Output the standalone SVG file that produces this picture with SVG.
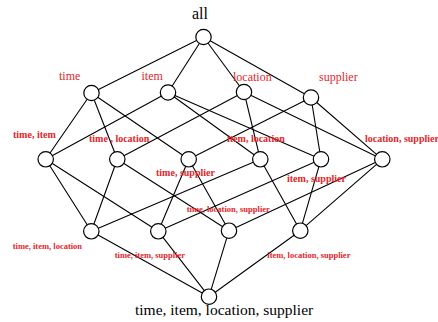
<svg xmlns="http://www.w3.org/2000/svg" width="438" height="322" viewBox="0 0 438 322">
<style>
.e{stroke:#000;stroke-width:1.1;fill:none}
.n{fill:#fff;stroke:#000;stroke-width:1.2}
.big{font-family:"Liberation Serif",serif;font-size:15.5px;fill:#000}
.l1{font-family:"Liberation Serif",serif;font-size:12px;fill:#e3262b}
.l2{font-family:"Liberation Serif",serif;font-size:10px;font-weight:bold;fill:#e3262b}
.l3{font-family:"Liberation Serif",serif;font-size:8.5px;font-weight:bold;fill:#e3262b}
</style>
<rect width="438" height="322" fill="#fff"/>
<g id="connectors">
<path class="e" d="M203.5,37L91.5,93M203.5,37L168,92.5M203.5,37L244,92M203.5,37L311,97.5"/>
<path class="e" d="M91.5,93L45.7,159.3M91.5,93L117.3,159.3M91.5,93L188.7,159.3"/>
<path class="e" d="M168,92.5L45.7,159.3M168,92.5L260.3,159.3M168,92.5L321,159.3"/>
<path class="e" d="M244,92L117.3,159.3M244,92L260.3,159.3M244,92L382.3,159.3"/>
<path class="e" d="M311,97.5L188.7,159.3M311,97.5L321,159.3M311,97.5L382.3,159.3"/>
<path class="e" d="M45.7,159.3L91.3,231.3M45.7,159.3L158.3,231.3"/>
<path class="e" d="M117.3,159.3L91.3,231.3M117.3,159.3L229,230.7"/>
<path class="e" d="M188.7,159.3L158.3,231.3M188.7,159.3L229,230.7"/>
<path class="e" d="M260.3,159.3L91.3,231.3M260.3,159.3L300.3,230.7"/>
<path class="e" d="M321,159.3L158.3,231.3M321,159.3L300.3,230.7"/>
<path class="e" d="M382.3,159.3L229,230.7M382.3,159.3L300.3,230.7"/>
<path class="e" d="M91.3,231.3L209,296.7M158.3,231.3L209,296.7M229,230.7L209,296.7M300.3,230.7L209,296.7"/>
</g>
<g id="all"><circle class="n" cx="203.5" cy="37" r="7.7"/><text class="big" x="192" y="19" style="font-size:16px">all</text></g>
<g id="time"><circle class="n" cx="91.5" cy="93" r="7.7"/><text class="l1" x="59" y="80">time</text></g>
<g id="item"><circle class="n" cx="168" cy="92.5" r="7.7"/><text class="l1" x="141.5" y="80">item</text></g>
<g id="location"><circle class="n" cx="244" cy="92" r="7.7"/><text class="l1" x="233" y="81">location</text></g>
<g id="supplier"><circle class="n" cx="311" cy="97.5" r="7.7"/><text class="l1" x="319" y="81">supplier</text></g>
<g id="time-item"><circle class="n" cx="45.7" cy="159.3" r="7.7"/><text class="l2" x="13" y="137.5">time, item</text></g>
<g id="time-location"><circle class="n" cx="117.3" cy="159.3" r="7.7"/><text class="l2" x="89" y="142">time , location</text></g>
<g id="time-supplier"><circle class="n" cx="188.7" cy="159.3" r="7.7"/><text class="l2" x="156" y="176">time, supplier</text></g>
<g id="item-location"><circle class="n" cx="260.3" cy="159.3" r="7.7"/><text class="l2" x="227" y="142">item, location</text></g>
<g id="item-supplier"><circle class="n" cx="321" cy="159.3" r="7.7"/><text class="l2" x="287" y="182">item, supplier</text></g>
<g id="location-supplier"><circle class="n" cx="382.3" cy="159.3" r="7.7"/><text class="l2" x="365" y="142">location, supplier</text></g>
<g id="time-item-location"><circle class="n" cx="91.3" cy="231.3" r="7.7"/><text class="l3" x="12.7" y="249">time, item, location</text></g>
<g id="time-item-supplier"><circle class="n" cx="158.3" cy="231.3" r="7.7"/><text class="l3" x="114.7" y="258">time, item, supplier</text></g>
<g id="time-location-supplier"><circle class="n" cx="229" cy="230.7" r="7.7"/><text class="l3" x="186.7" y="211.7">time, location, supplier</text></g>
<g id="item-location-supplier"><circle class="n" cx="300.3" cy="230.7" r="7.7"/><text class="l3" x="267.3" y="258.3">item, location, supplier</text></g>
<g id="time-item-location-supplier"><circle class="n" cx="209" cy="296.7" r="7.7"/><text class="big" x="135" y="315">time, item, location, supplier</text></g>
</svg>
